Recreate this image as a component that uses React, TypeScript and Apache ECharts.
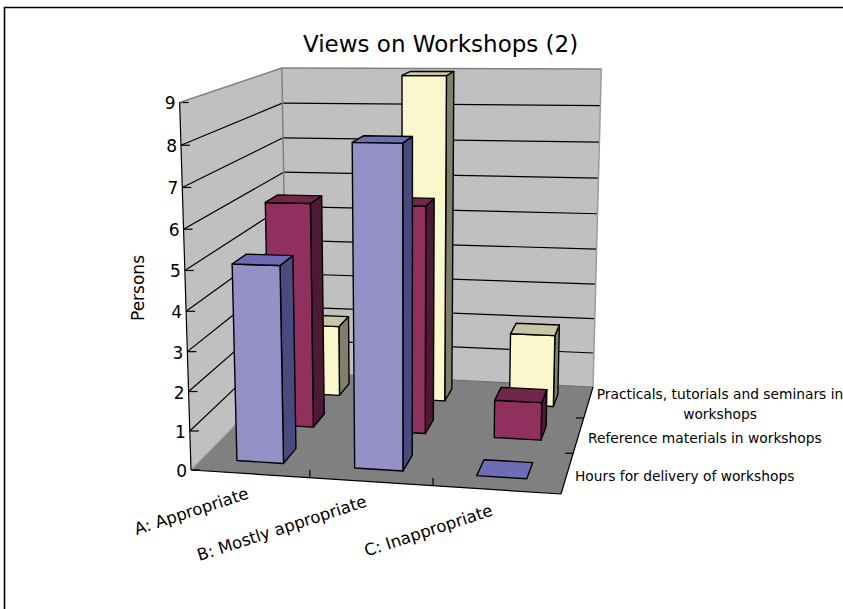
import React, { useEffect, useRef } from "react";
import * as echarts from "echarts";

const titleText = "Views on Workshops (2)";
const axisName = "Persons";
const categories = ["A: Appropriate", "B: Mostly appropriate", "C: Inappropriate"];
const hours = [5, 8, 0];
const materials = [6, 6, 1];
const practicals = [2, 9, 2];
const valueTicks = [0, 1, 2, 3, 4, 5, 6, 7, 8, 9];
const maxValue = 9;
const FONT = '"DejaVu Sans", sans-serif';

// Screen positions of the plot box's corners; they define the camera.
type Pt = [number, number];
const floorFL: Pt = [191, 470];
const floorFR: Pt = [561, 494];
const floorBR: Pt = [593, 387];
const floorBL: Pt = [287, 372];
const topFL: Pt = [180.5, 101.5];
const topBL: Pt = [281, 65];
const topBR: Pt = [601, 71];
const topMidFront: Pt = [352.7, 144.5];

function buildCamera() {
  const [x0, y0] = floorFL, [x1, y1] = floorFR, [x2, y2] = floorBR, [x3, y3] = floorBL;
  const dx1 = x1 - x2, dx2 = x3 - x2, sx = x0 - x1 + x2 - x3;
  const dy1 = y1 - y2, dy2 = y3 - y2, sy = y0 - y1 + y2 - y3;
  const den = dx1 * dy2 - dx2 * dy1;
  const g = (sx * dy2 - dx2 * sy) / den;
  const h = (dx1 * sy - sx * dy1) / den;
  const a = x1 - x0 + g * x1, b = x3 - x0 + h * x3, c = x0;
  const d = y1 - y0 + g * y1, e = y3 - y0 + h * y3, f = y0;
  // Vertical column of the projection, least-squares fit on known raised points.
  const refs: [number, number, number, Pt][] = [
    [0, 0, 1, topFL],
    [0, 1, 1, topBL],
    [1, 1, 1, topBR],
    [1.3 / 3, 0.1, 8 / 9, topMidFront],
  ];
  const rows = refs.map(([u, v, w, [X, Y]]) => {
    const wd = g * u + h * v + 1;
    return { X, Y, w, R1: (X * wd - (a * u + b * v + c)) / w, R2: (Y * wd - (d * u + e * v + f)) / w };
  });
  const mean = (k: "X" | "Y" | "R1" | "R2") => rows.reduce((s, r) => s + r[k], 0) / rows.length;
  const mX = mean("X"), mY = mean("Y"), mR1 = mean("R1"), mR2 = mean("R2");
  let num = 0, dn = 0;
  rows.forEach((r) => {
    num += (r.X - mX) * (r.R1 - mR1) + (r.Y - mY) * (r.R2 - mR2);
    dn += (r.X - mX) ** 2 + (r.Y - mY) ** 2;
  });
  const rr = -num / dn;
  const p = mX * rr + mR1, q = mY * rr + mR2;
  return (u: number, v: number, w: number): Pt => {
    const wd = g * u + h * v + rr * w + 1;
    return [(a * u + b * v + p * w + c) / wd, (d * u + e * v + q * w + f) / wd];
  };
}
const project = buildCamera();

// Hidden cartesian grid: its scales turn data into unit box coordinates.
const GRID_W = 840;
const GRID_H = 600;
const ROWS = 3;
const BAR_SHARE = 0.4;

function barRenderer(row: number, front: string, top: string, side: string) {
  return (_params: any, api: any) => {
    const cat = api.value(0);
    const val = api.value(1);
    const [cx, cy] = api.coord([cat, val]);
    const halfU = (api.size([1, 0])[0] * BAR_SHARE) / 2 / GRID_W;
    const u0 = cx / GRID_W - halfU, u1 = cx / GRID_W + halfU;
    const v0 = (row + 0.3) / ROWS, v1 = (row + 0.7) / ROWS;
    const w = 1 - cy / GRID_H;
    const stroke = { stroke: "#000", lineWidth: 1.4, lineJoin: "round" };
    const face = (pts: Pt[], fill: string) => ({
      type: "polygon",
      shape: { points: pts },
      style: { fill, ...stroke },
    });
    const children: any[] = [];
    if (val > 0) {
      children.push(face([project(u1, v0, 0), project(u1, v1, 0), project(u1, v1, w), project(u1, v0, w)], side));
      children.push(face([project(u0, v0, 0), project(u1, v0, 0), project(u1, v0, w), project(u0, v0, w)], front));
    }
    children.push(face([project(u0, v0, w), project(u1, v0, w), project(u1, v1, w), project(u0, v1, w)], top));
    return { type: "group", children };
  };
}

const seriesRows = [
  { name: "Practicals, tutorials and seminars in\nworkshops", data: practicals, row: 2, front: "#fbf7cc", top: "#c8c7a3", side: "#80806a" },
  { name: "Reference materials in workshops", data: materials, row: 1, front: "#90305f", top: "#72264c", side: "#4d1934" },
  { name: "Hours for delivery of workshops", data: hours, row: 0, front: "#9391c6", top: "#6d6db5", side: "#4a4a7e" },
];

function line(a: Pt, b: Pt, stroke: string, lineWidth = 1.2) {
  return {
    type: "line",
    shape: { x1: a[0], y1: a[1], x2: b[0], y2: b[1] },
    style: { stroke, lineWidth },
    silent: true,
  };
}
function poly(points: Pt[], fill: string) {
  return { type: "polygon", shape: { points }, style: { fill }, silent: true };
}
function label(text: string, x: number, y: number, size: number, align = "center", rotation = 0) {
  return {
    type: "text",
    x,
    y,
    rotation,
    silent: true,
    style: { text, fill: "#000", font: `${size}px ${FONT}`, textAlign: align, textVerticalAlign: "middle", lineHeight: 20 },
  };
}

function scenery() {
  const top = maxValue / maxValue;
  const els: any[] = [
    // Outer frame, open towards the page's right and bottom
    { type: "polyline", shape: { points: [[4.5, 609], [4.5, 7.5], [843, 7.5]] }, style: { fill: "none", stroke: "#000", lineWidth: 1.6 }, silent: true },
    poly([project(0, 0, 0), project(0, 1, 0), project(0, 1, top), project(0, 0, top)], "#c0c0c0"),
    poly([project(0, 1, 0), project(1, 1, 0), project(1, 1, top), project(0, 1, top)], "#c0c0c0"),
    poly([project(0, 0, 0), project(1, 0, 0), project(1, 1, 0), project(0, 1, 0)], "#808080"),
  ];
  valueTicks.forEach((t) => {
    const w = t / maxValue;
    const f = project(0, 0, w);
    if (t > 0 && t < maxValue) {
      els.push(line(f, project(0, 1, w), "#000"));
      els.push(line(project(0, 1, w), project(1, 1, w), "#000"));
    }
    els.push(line(f, [f[0] + 9, f[1]], "#000"));
    els.push(label(String(t), f[0] - 4, f[1] + 1, 17, "right"));
  });
  // Wall edges in grey, the box's outer front edges in black
  els.push(line(project(0, 0, top), project(0, 1, top), "#808080", 1.5));
  els.push(line(project(0, 1, top), project(1, 1, top), "#808080", 1.5));
  els.push(line(project(1, 1, top), project(1, 1, 0), "#9a9a9a", 1.5));
  els.push(line(project(0, 1, top), project(0, 1, 0), "#808080", 1.5));
  els.push(line(project(0, 1, 0), project(1, 1, 0), "#707070", 1.2));
  els.push(line(project(0, 0, 0), project(0, 1, 0), "#a0a0a0", 1.2));
  els.push(line(project(0, 0, 0), project(0, 0, top), "#000", 1.2));
  els.push(line(project(0, 0, 0), project(1, 0, 0), "#000", 1.2));
  els.push(line(project(1, 0, 0), project(1, 1, 0), "#000", 1.2));
  [1, 2].forEach((i) => {
    const a = project(i / 3, 0, 0);
    els.push(line(a, [a[0], a[1] - 8], "#000"));
    const b = project(1, i / 3, 0);
    els.push(line(b, [b[0] - 8, b[1]], "#000"));
  });
  els.push(label(axisName, 138, 288, 17, "center", Math.PI / 2));
  const catAnchors: Pt[] = [[248, 493], [366, 501], [492, 510]];
  categories.forEach((c, i) => els.push(label(c, catAnchors[i][0], catAnchors[i][1], 16.5, "right", (18 * Math.PI) / 180)));
  const nameAnchors: [number, number, string][] = [[720, 404, "center"], [588, 438, "left"], [575, 476, "left"]];
  seriesRows.forEach((s, i) => els.push(label(s.name, nameAnchors[i][0], nameAnchors[i][1], 13.8, nameAnchors[i][2])));
  return els;
}

export default function App() {
  const ref = useRef<HTMLDivElement>(null);
  useEffect(() => {
    const chart = echarts.init(ref.current!, undefined, { renderer: "svg" });
    chart.setOption({
      animation: false,
      backgroundColor: "#fff",
      title: { text: titleText, left: 298, top: 27, textStyle: { fontFamily: FONT, fontSize: 23, fontWeight: "normal", color: "#000" } },
      grid: { left: 0, top: 0, width: GRID_W, height: GRID_H, containLabel: false },
      xAxis: { type: "category", data: categories, show: false },
      yAxis: { type: "value", min: 0, max: maxValue, interval: 1, show: false },
      graphic: { elements: scenery() },
      series: seriesRows.map((s) => ({
        type: "custom",
        name: s.name,
        coordinateSystem: "cartesian2d",
        renderItem: barRenderer(s.row, s.front, s.top, s.side),
        encode: { x: 0, y: 1 },
        clip: false,
        data: s.data.map((v, i) => [i, v]),
      })),
    });
    return () => chart.dispose();
  }, []);
  return <div ref={ref} style={{ position: "absolute", left: 0, top: 0, width: 843, height: 609 }} />;
}
